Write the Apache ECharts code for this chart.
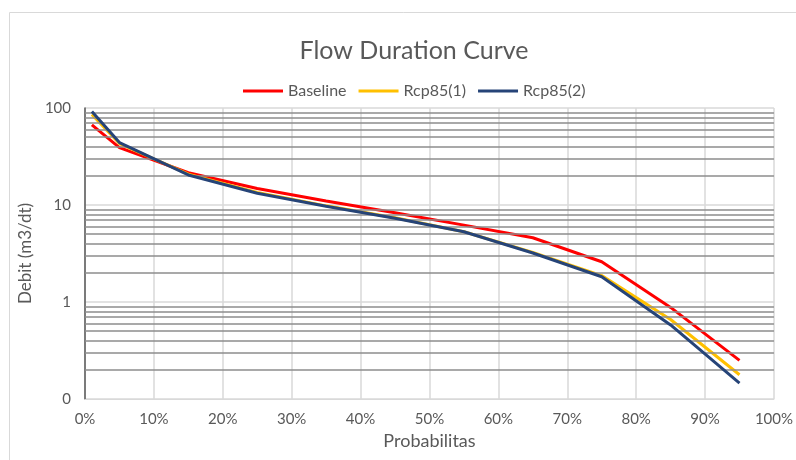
<!DOCTYPE html>
<html><head><meta charset="utf-8">
<script src="https://cdn.jsdelivr.net/npm/echarts@6/dist/echarts.min.js"></script>
<style>html,body{margin:0;padding:0;background:#fff}#c{width:796px;height:460px}</style>
</head><body><div id="c"></div>
<script>
const probabilities = [0.01, 0.05, 0.15, 0.25, 0.35, 0.45, 0.55, 0.65, 0.75, 0.85, 0.95];
const baseline = [67, 39, 21.5, 14.8, 11, 8.3, 6.2, 4.6, 2.6, 0.88, 0.25];
const rcp85_1 = [86, 43, 20.8, 13.5, 9.8, 7.4, 5.3, 3.25, 1.87, 0.66, 0.178];
const rcp85_2 = [92, 44, 20.4, 13.2, 9.7, 7.3, 5.3, 3.2, 1.82, 0.58, 0.146];
const seriesNames = ['Baseline', 'Rcp85(1)', 'Rcp85(2)'];
const colors = ['#FF0000', '#FFC000', '#264478'];
const minorGrid = [0.2,0.3,0.4,0.5,0.6,0.7,0.8,0.9,2,3,4,5,6,7,8,9,20,30,40,50,60,70,80,90];

const font = 'Lato, "Liberation Sans", sans-serif';
const pair = arr => probabilities.map((p, i) => [p, arr[i]]);
const chart = echarts.init(document.getElementById('c'));
chart.setOption({
  animation: false,
  textStyle: {fontFamily: font},
  graphic: [{type: 'rect', shape: {x: 9.5, y: 12.5, width: 800, height: 460}, style: {fill: 'none', stroke: '#d9d9d9', lineWidth: 1}}],
  title: {text: 'Flow Duration Curve', left: 409, textAlign: 'center', top: 33,
    textStyle: {fontFamily: font, fontSize: 25, fontWeight: 'normal', color: '#595959'}},
  legend: {top: 78, left: 238, itemWidth: 40, itemHeight: 3, icon: 'rect', itemGap: 12,
    data: seriesNames,
    textStyle: {fontFamily: font, fontSize: 16, color: '#595959'}},
  grid: {left: 85, right: 20, top: 108, bottom: 61},
  xAxis: {type: 'value', min: 0, max: 1, interval: 0.1,
    name: 'Probabilitas', nameLocation: 'middle', nameGap: 32,
    nameTextStyle: {fontFamily: font, fontSize: 18, color: '#595959'},
    axisLine: {show: true, lineStyle: {color: '#d9d9d9'}},
    axisTick: {show: false},
    axisLabel: {color: '#595959', fontSize: 15, margin: 13, formatter: v => Math.round(v * 100) + '%'},
    splitLine: {show: true, lineStyle: {color: '#d9d9d9', width: 1.5}}},
  yAxis: {type: 'log', logBase: 10, min: 0.1, max: 100,
    name: 'Debit (m3/dt)', nameLocation: 'middle', nameGap: 48,
    nameTextStyle: {fontFamily: font, fontSize: 17, color: '#595959'},
    axisLine: {show: true, lineStyle: {color: '#595959', width: 1.5}},
    axisTick: {show: false},
    axisLabel: {color: '#595959', fontSize: 15, margin: 14, formatter: v => v < 1 ? '0' : String(Math.round(v))},
    splitLine: {show: true, lineStyle: {color: '#d9d9d9', width: 1.5}}},
  series: [
    {type: 'line', name: '_grid', data: [], z: 1, silent: true,
      markLine: {silent: true, symbol: 'none', label: {show: false},
        lineStyle: {color: '#8c8c8c', width: 1.5, type: 'solid'},
        data: minorGrid.map(v => ({yAxis: v}))}},
    ...[baseline, rcp85_1, rcp85_2].map((arr, i) => ({
      type: 'line', name: seriesNames[i], data: pair(arr), showSymbol: false, symbol: 'none', z: 3 + i,
      color: colors[i], lineStyle: {color: colors[i], width: 3}
    }))
  ]
});
</script></body></html>
